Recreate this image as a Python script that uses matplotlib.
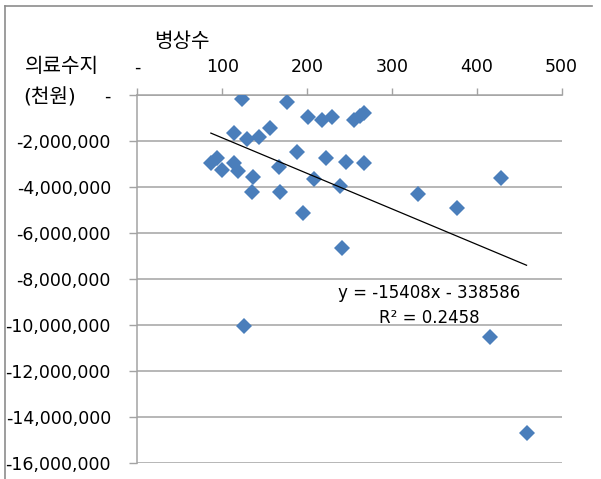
import matplotlib
matplotlib.use("Agg")
import matplotlib.pyplot as plt
from matplotlib.lines import Line2D
from matplotlib.ticker import FuncFormatter
import numpy as np

plt.rcParams["font.family"] = ["DejaVu Sans", "Noto Sans CJK KR"]

# bed count (병상수) and medical balance (의료수지, 천원)
beds = [123.5, 176.5, 201, 218, 229, 255, 262, 266.7, 156, 114,
        129.4, 143, 188, 86.7, 93.4, 99.3, 113.8, 118.8, 136.5, 135.7,
        166.7, 167.9, 208, 195.3, 223, 245.5, 266.7, 238.8, 241, 125.9,
        331.4, 376.5, 429, 415.8, 458.8]
balance = [-0.21e6, -0.34e6, -0.96e6, -1.11e6, -0.96e6, -1.11e6, -0.93e6, -0.82e6, -1.44e6, -1.68e6,
           -1.93e6, -1.83e6, -2.48e6, -2.96e6, -2.77e6, -3.28e6, -2.98e6, -3.31e6, -3.57e6, -4.24e6,
           -3.16e6, -4.24e6, -3.68e6, -5.15e6, -2.77e6, -2.92e6, -2.98e6, -3.97e6, -6.67e6, -10.06e6,
           -4.32e6, -4.94e6, -3.62e6, -10.54e6, -14.68e6]

# linear trendline shown in the chart
slope = -15408
intercept = -338586
r2 = 0.2458

x_ticks = [0, 100, 200, 300, 400, 500]
y_ticks = list(range(-16000000, 1, 2000000))

grey = "#a3a3a3"
W, H = 601, 479

fig = plt.figure(figsize=(W / 100, H / 100), dpi=100)
ax = fig.add_axes([137.3 / W, 1 - 463.3 / H, (561.5 - 137.3) / W, (463.3 - 94.5) / H])

ax.plot(beds, balance, linestyle="none", marker="D", markersize=8,
        color="#4a7ebb", markeredgewidth=0, zorder=3)

fx = np.array([min(beds), max(beds)])
ax.plot(fx, slope * fx + intercept, color="black", linewidth=0.9, zorder=4)

ax.set_xlim(0, 500)
ax.set_ylim(-16000000, 0)
ax.set_xticks(x_ticks)
ax.set_yticks(y_ticks)
ax.xaxis.set_major_formatter(FuncFormatter(lambda v, p: "-" if v == 0 else f"{v:.0f}"))
ax.yaxis.set_major_formatter(FuncFormatter(lambda v, p: "-" if v == 0 else f"{v:,.0f}"))
ax.xaxis.tick_top()
ax.tick_params(axis="x", direction="out", length=5, width=1, color=grey, pad=8, labelsize=12.5)
ax.tick_params(axis="y", direction="out", length=6, width=1, color=grey, pad=13, labelsize=12.5)
ax.grid(axis="y", color=grey, linewidth=1.1)
ax.set_axisbelow(True)
for side in ["bottom", "right"]:
    ax.spines[side].set_visible(False)
for side in ["left", "top"]:
    ax.spines[side].set_color(grey)
    ax.spines[side].set_linewidth(1.1)

ax.text(0.6877, 0.4626, f"y = {slope}x - {abs(intercept)}", transform=ax.transAxes,
        ha="center", va="center", fontsize=12)
ax.text(0.6877, 0.3932, f"R² = {r2}", transform=ax.transAxes,
        ha="center", va="center", fontsize=12)

fig.text(181.7 / W, 1 - 41.7 / H, "병상수", ha="center", va="center", fontsize=14.5)
fig.text(61.7 / W, 1 - 66 / H, "의료수지", ha="center", va="center", fontsize=14.5)
fig.text(49.3 / W, 1 - 98.3 / H, "(천원)", ha="center", va="center", fontsize=14.5)

# chart area frame
fig.add_artist(Line2D([5 / W, 592 / W], [1 - 5.5 / H, 1 - 5.5 / H], color="#8c8c8c", linewidth=1.2))
fig.add_artist(Line2D([5 / W, 5 / W], [1 - 5.5 / H, 0], color="#8c8c8c", linewidth=1.2))

fig.savefig("out.png", dpi=100)
